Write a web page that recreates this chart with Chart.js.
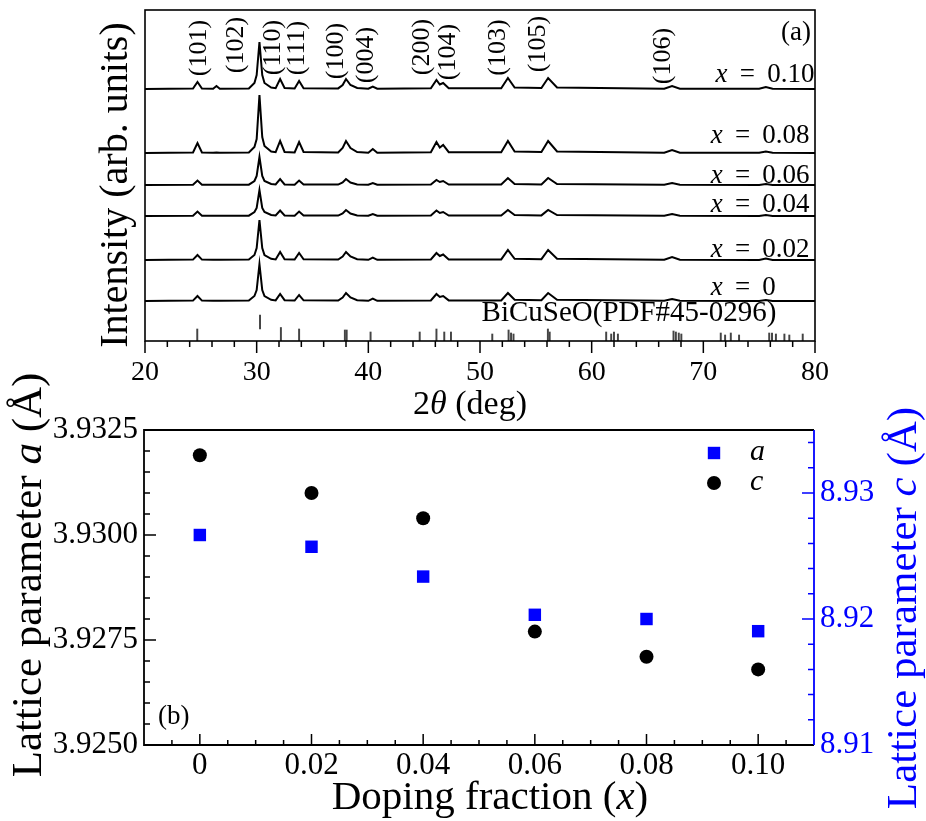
<!DOCTYPE html>
<html>
<head>
<meta charset="utf-8">
<title>BiCuSeO XRD and lattice parameters</title>
<script src="https://cdn.jsdelivr.net/npm/chart.js@4.4.1/dist/chart.umd.min.js"></script>
<style>
  body { margin: 0; background: #fff; }
  #wrap { position: relative; width: 926px; height: 821px; }
  #xrd { position: absolute; left: 0; top: 0; }
  #lattice { position: absolute; left: 0; top: 340px; }
</style>
</head>
<body>
<div id="wrap">
  <canvas id="xrd" width="926" height="430"></canvas>
  <canvas id="lattice" width="926" height="481"></canvas>
</div>
<script>
const FONT = '"Liberation Serif", "Times New Roman", serif';
Chart.defaults.font.family = FONT;
Chart.defaults.color = '#000';

// ---- (a) XRD patterns (intensity in arb. units) ----
const twoTheta = [20, 24.3, 24.7, 25.1, 26.1, 26.4, 26.7, 29.3, 29.8, 30.0, 30.25, 30.5, 30.7, 31.3,
  31.7, 32.1, 32.5, 33.4, 33.8, 34.2, 37.3, 37.7, 38.0, 38.4, 39.0, 40.0, 40.4, 40.8, 45.6, 46.1,
  46.4, 46.7, 47.2, 51.9, 52.5, 53.1, 55.5, 56.1, 56.9, 66.5, 67.2, 67.9, 75.0, 75.6, 76.2, 80];
const sampleNames = ['0.10', '0.08', '0.06', '0.04', '0.02', '0'];
const int010 = [0, 0.5, 7, 0.5, 0.3, 3, 0.3, 0.5, 6, 14, 47, 14, 6, 1.5, 0.8, 10, 1, 0.5, 8, 0.8,
  0.6, 4, 10, 4, 1, 0.3, 2.5, 0.3, 0.8, 9, 4.5, 6, 0.8, 0.8, 11, 1.5, 1, 11, 1.5, 0.3, 3, 0.3, 0.2, 2, 0.2, 0];
const int008 = [0, 0.5, 10, 0.5, 0.3, 0.5, 0.3, 0.5, 6, 14, 58, 16, 7, 1.5, 0.8, 12, 1, 0.5, 11, 1,
  0.6, 5, 12, 5, 1, 0.3, 4, 0.3, 0.8, 11, 5.5, 8, 0.8, 0.8, 12, 1.5, 1, 12, 1.5, 0.3, 3, 0.3, 0.2, 1.5, 0.2, 0];
const int006 = [0, 0.3, 4.5, 0.3, 0.2, 0.3, 0.2, 0.3, 4, 9, 28, 9, 4, 1, 0.5, 6, 0.6, 0.3, 4.5, 0.5,
  0.4, 2.5, 6, 2.5, 0.6, 0.2, 2, 0.2, 0.5, 5, 3, 4, 0.5, 0.5, 7, 1, 0.6, 7, 1, 0.2, 2, 0.2, 0.1, 1, 0.1, 0];
const int004 = [0, 0.3, 4.5, 0.3, 0.2, 0.3, 0.2, 0.3, 4, 8, 26, 8, 4, 1, 0.5, 5.5, 0.6, 0.3, 4.5, 0.5,
  0.4, 2.5, 6, 2.5, 0.6, 0.2, 2, 0.2, 0.5, 5.5, 3, 4, 0.5, 0.5, 6, 1, 0.6, 6, 1, 0.2, 2, 0.2, 0.1, 1, 0.1, 0];
const int002 = [0, 0.4, 5, 0.4, 0.2, 0.3, 0.2, 0.4, 5, 12, 40, 12, 5, 1.2, 0.6, 8, 0.8, 0.4, 7, 0.7,
  0.5, 3.5, 8, 3.5, 0.8, 0.2, 2.5, 0.2, 0.6, 7, 4, 5.5, 0.6, 0.6, 10, 1.2, 0.8, 10, 1.2, 0.2, 3, 0.2, 0.1, 1.5, 0.1, 0];
const int000 = [0, 0.4, 5, 0.4, 0.2, 0.3, 0.2, 0.4, 5, 11, 37, 11, 5, 1.2, 0.6, 7, 0.8, 0.4, 6, 0.7,
  0.5, 3.5, 8, 3.5, 0.8, 0.2, 2.5, 0.2, 0.6, 7, 4, 5, 0.6, 0.6, 8, 1.2, 0.8, 8, 1.2, 0.2, 2, 0.2, 0.1, 1, 0.1, 0];
const traceOffset = [252, 188, 156, 125, 81, 40];

// reference pattern BiCuSeO (PDF#45-0296)
const stickPos = [24.68, 30.3, 32.17, 33.8, 37.9, 38.06, 40.2, 44.6, 46.1, 46.8, 47.4, 51.1, 52.56,
  52.78, 53.0, 56.08, 56.24, 61.3, 61.75, 62.0, 62.35, 67.33, 67.54, 67.8, 68.03, 71.56, 71.95,
  72.46, 73.2, 75.9, 76.15, 76.5, 77.26, 77.7, 78.9];
const stickLow = [0, 12, 0, 0, 0, 0, 0, 0, 0, 0, 0, 0, 0, 0, 0, 0, 0, 0, 0, 0, 0, 0, 0, 0, 0, 0, 0,
  0, 0, 0, 0, 0, 0, 0, 0];
const stickHigh = [12, 26, 13.5, 12, 11, 11, 9, 9, 12, 9, 9, 7, 11, 8, 7, 12, 9, 9, 7, 9, 7, 10, 9,
  8, 7, 8, 6, 8, 6, 8, 8, 7, 7, 6, 7];

const peakNames = ['(101)', '(102)', '(110)', '(111)', '(100)', '(004)', '(200)', '(104)', '(103)', '(105)', '(106)'];
const peakLabelX = [24.86, 28.2, 31.49, 33.67, 37.16, 39.85, 44.86, 47.15, 51.63, 55.21, 66.4];
const peakLabelY = [293, 296, 293.5, 293, 290, 286, 294, 289, 293.5, 297, 285];
const sampleLabelX = [71.1, 70.67, 70.67, 70.67, 70.67, 70.67];
const sampleLabelY = [266, 205, 165, 136, 91.5, 53.5];
const xrdTicks = [20, 30, 40, 50, 60, 70, 80];

// ---- (b) lattice parameters ----
const dopingX = [0, 0.02, 0.04, 0.06, 0.08, 0.10];
const latticeA = [3.9300, 3.92972, 3.92901, 3.9281, 3.9280, 3.92771];
const latticeC = [8.9330, 8.9300, 8.9280, 8.9190, 8.9170, 8.9160];
const dopingTicks = [0, 0.02, 0.04, 0.06, 0.08, 0.10];
const aTicks = [3.925, 3.9275, 3.93, 3.9325];
const cTicks = [8.91, 8.92, 8.93];

const BLUE = '#0000ff';

// draw a line of text made of plain / italic pieces
function textRuns(ctx, runs, x, y, size, opts) {
  opts = opts || {};
  ctx.save();
  ctx.translate(x, y);
  if (opts.rotate) ctx.rotate(opts.rotate);
  ctx.fillStyle = opts.color || '#000';
  ctx.textBaseline = 'middle';
  ctx.textAlign = 'left';
  const font = r => (r.it ? 'italic ' : '') + size + 'px ' + FONT;
  let w = 0;
  runs.forEach(r => { ctx.font = font(r); w += ctx.measureText(r.t).width; });
  let cx = opts.align === 'left' ? 0 : opts.align === 'right' ? -w : -w / 2;
  runs.forEach(r => {
    ctx.font = font(r);
    ctx.fillText(r.t, cx, 0);
    cx += ctx.measureText(r.t).width;
  });
  ctx.restore();
}
const R = (t, it) => ({ t, it: !!it });

function tickMarks(ctx, scale, values, edge, dir, len, color) {
  ctx.save();
  ctx.strokeStyle = color || '#000';
  ctx.lineWidth = 1.5;
  ctx.beginPath();
  values.forEach(v => {
    const p = scale.getPixelForValue(v);
    if (scale.isHorizontal()) { ctx.moveTo(p, edge); ctx.lineTo(p, edge + dir * len); }
    else { ctx.moveTo(edge, p); ctx.lineTo(edge + dir * len, p); }
  });
  ctx.stroke();
  ctx.restore();
}

const xrdDecor = {
  id: 'xrdDecor',
  afterDatasetsDraw(chart) {
    const { ctx, chartArea: ca, scales: { x, y } } = chart;
    ctx.save();
    ctx.strokeStyle = '#000';
    ctx.lineWidth = 1.6;
    ctx.strokeRect(ca.left, ca.top, ca.right - ca.left, ca.bottom - ca.top);
    ctx.restore();

    const minor = [];
    for (let v = 22; v < 80; v += 2) if (!xrdTicks.includes(v)) minor.push(v);
    tickMarks(ctx, x, xrdTicks, ca.bottom, 1, 12);
    tickMarks(ctx, x, minor, ca.bottom, 1, 6);

    peakNames.forEach((n, i) => {
      textRuns(ctx, [R(n)], x.getPixelForValue(peakLabelX[i]), y.getPixelForValue(peakLabelY[i]), 26,
        { rotate: -Math.PI / 2 });
    });
    sampleNames.forEach((n, i) => {
      textRuns(ctx, [R('x', true), R(' \u2009=\u2009 ' + n)], x.getPixelForValue(sampleLabelX[i]),
        y.getPixelForValue(sampleLabelY[i]), 27, { align: 'left' });
    });
    textRuns(ctx, [R('BiCuSeO(PDF#45-0296)')], x.getPixelForValue(50.14), y.getPixelForValue(28), 29, { align: 'left' });
    textRuns(ctx, [R('(a)')], ca.right - 4, ca.top + 23, 27, { align: 'right' });

    textRuns(ctx, [R('Intensity (arb. units)')], 116, 185, 40, { rotate: -Math.PI / 2 });
    textRuns(ctx, [R('2'), R('\u03b8', true), R(' (deg)')], 470, 405, 34);
  }
};

const traces = [int010, int008, int006, int004, int002, int000];

new Chart(document.getElementById('xrd'), {
  type: 'scatter',
  data: {
    datasets: traces.map((vals, k) => ({
      label: 'x = ' + sampleNames[k],
      data: twoTheta.map((t, i) => ({ x: t, y: traceOffset[k] + vals[i] })),
      showLine: true,
      borderColor: '#000',
      borderWidth: 2,
      pointRadius: 0,
      tension: 0
    })).concat([{
      type: 'bar',
      label: 'BiCuSeO',
      data: stickPos.map((p, i) => ({ x: p, y: [stickLow[i], stickHigh[i]] })),
      backgroundColor: '#444',
      barThickness: 1.3,
      borderWidth: 0,
      grouped: false
    }])
  },
  options: {
    responsive: false,
    animation: false,
    layout: { padding: { left: 145, right: 111, top: 10 } },
    plugins: { legend: { display: false }, tooltip: { enabled: false } },
    scales: {
      x: {
        type: 'linear', min: 20, max: 80, offset: false,
        grid: { display: false, drawTicks: false, offset: false },
        border: { display: false },
        afterBuildTicks: s => { s.ticks = xrdTicks.map(v => ({ value: v })); },
        afterFit: s => { s.height = 89; },
        ticks: { font: { size: 28 }, padding: 15, maxRotation: 0, autoSkip: false, color: '#000' }
      },
      y: { display: false, min: 0, max: 331 }
    }
  },
  plugins: [xrdDecor]
});

const latticeDecor = {
  id: 'latticeDecor',
  afterDatasetsDraw(chart) {
    const { ctx, chartArea: ca, scales: { x, yA, yC } } = chart;
    ctx.save();
    ctx.lineWidth = 1.8;
    ctx.strokeStyle = '#000';
    ctx.beginPath();
    ctx.moveTo(ca.right, ca.top); ctx.lineTo(ca.left, ca.top);
    ctx.lineTo(ca.left, ca.bottom); ctx.lineTo(ca.right, ca.bottom);
    ctx.stroke();
    ctx.strokeStyle = BLUE;
    ctx.beginPath();
    ctx.moveTo(ca.right, ca.top); ctx.lineTo(ca.right, ca.bottom);
    ctx.stroke();
    ctx.restore();

    const xMinor = [];
    for (let k = -1; k <= 21; k++) if (k % 4 !== 0 || k < 0 || k > 20) xMinor.push(k * 0.005);
    tickMarks(ctx, x, dopingTicks, ca.bottom, -1, 11);
    tickMarks(ctx, x, xMinor, ca.bottom, -1, 5);

    const aMajor = [], aMinor = [];
    for (let k = 1; k < 15; k++) (k % 5 === 0 ? aMajor : aMinor).push(3.925 + k * 0.0005);
    tickMarks(ctx, yA, aMajor, ca.left, 1, 12);
    tickMarks(ctx, yA, aMinor, ca.left, 1, 6);

    const cMajor = [], cMinor = [];
    for (let k = 1; k <= 12; k++) (k % 5 === 0 ? cMajor : cMinor).push(8.91 + k * 0.002);
    tickMarks(ctx, yC, cMajor, ca.right, -1, 12, BLUE);
    tickMarks(ctx, yC, cMinor, ca.right, -1, 6, BLUE);

    // legend
    const lx = ca.right - 100;
    ctx.save();
    ctx.fillStyle = BLUE;
    ctx.fillRect(lx - 6.2, ca.top + 23 - 6.2, 12.4, 12.4);
    ctx.fillStyle = '#000';
    ctx.beginPath();
    ctx.arc(lx, ca.top + 53, 7, 0, Math.PI * 2);
    ctx.fill();
    ctx.restore();
    textRuns(ctx, [R('a', true)], ca.right - 64, ca.top + 22, 30, { align: 'left' });
    textRuns(ctx, [R('c', true)], ca.right - 64, ca.top + 52, 30, { align: 'left' });

    textRuns(ctx, [R('(b)')], ca.left + 14, ca.bottom - 28, 27, { align: 'left' });

    textRuns(ctx, [R('Lattice parameter '), R('a', true), R(' (\u00c5)')], 30, 235, 43, { rotate: -Math.PI / 2 });
    textRuns(ctx, [R('Lattice parameter '), R('c', true), R(' (\u00c5)')], 905, 268, 43,
      { rotate: -Math.PI / 2, color: BLUE });
    textRuns(ctx, [R('Doping fraction ('), R('x', true), R(')')], 490, 458, 41);
  }
};

new Chart(document.getElementById('lattice'), {
  type: 'scatter',
  data: {
    datasets: [{
      label: 'a',
      data: dopingX.map((d, i) => ({ x: d, y: latticeA[i] })),
      yAxisID: 'yA',
      pointStyle: 'rect',
      pointRadius: 8.8,
      backgroundColor: BLUE,
      borderWidth: 0
    }, {
      label: 'c',
      data: dopingX.map((d, i) => ({ x: d, y: latticeC[i] })),
      yAxisID: 'yC',
      pointStyle: 'circle',
      pointRadius: 7,
      backgroundColor: '#000',
      borderWidth: 0
    }]
  },
  options: {
    responsive: false,
    animation: false,
    layout: { padding: { top: 90 } },
    plugins: { legend: { display: false }, tooltip: { enabled: false } },
    scales: {
      x: {
        type: 'linear', min: -0.01, max: 0.11,
        grid: { display: false, drawTicks: false },
        border: { display: false },
        afterBuildTicks: s => { s.ticks = dopingTicks.map(v => ({ value: v })); },
        afterFit: s => { s.height = 76; },
        ticks: {
          font: { size: 31 }, padding: 2, maxRotation: 0, autoSkip: false, color: '#000',
          callback: v => (v === 0 ? '0' : v.toFixed(2))
        }
      },
      yA: {
        position: 'left', min: 3.925, max: 3.9325,
        grid: { display: false, drawTicks: false },
        border: { display: false },
        afterBuildTicks: s => { s.ticks = aTicks.map(v => ({ value: v })); },
        afterFit: s => { s.width = 144; },
        ticks: { font: { size: 31 }, padding: 6, color: '#000', callback: v => v.toFixed(4) }
      },
      yC: {
        position: 'right', min: 8.91, max: 8.935,
        grid: { display: false, drawTicks: false },
        border: { display: false },
        afterBuildTicks: s => { s.ticks = cTicks.map(v => ({ value: v })); },
        afterFit: s => { s.width = 112; },
        ticks: { font: { size: 31 }, padding: 6, color: BLUE, callback: v => v.toFixed(2) }
      }
    }
  },
  plugins: [latticeDecor]
});
</script>
</body>
</html>
